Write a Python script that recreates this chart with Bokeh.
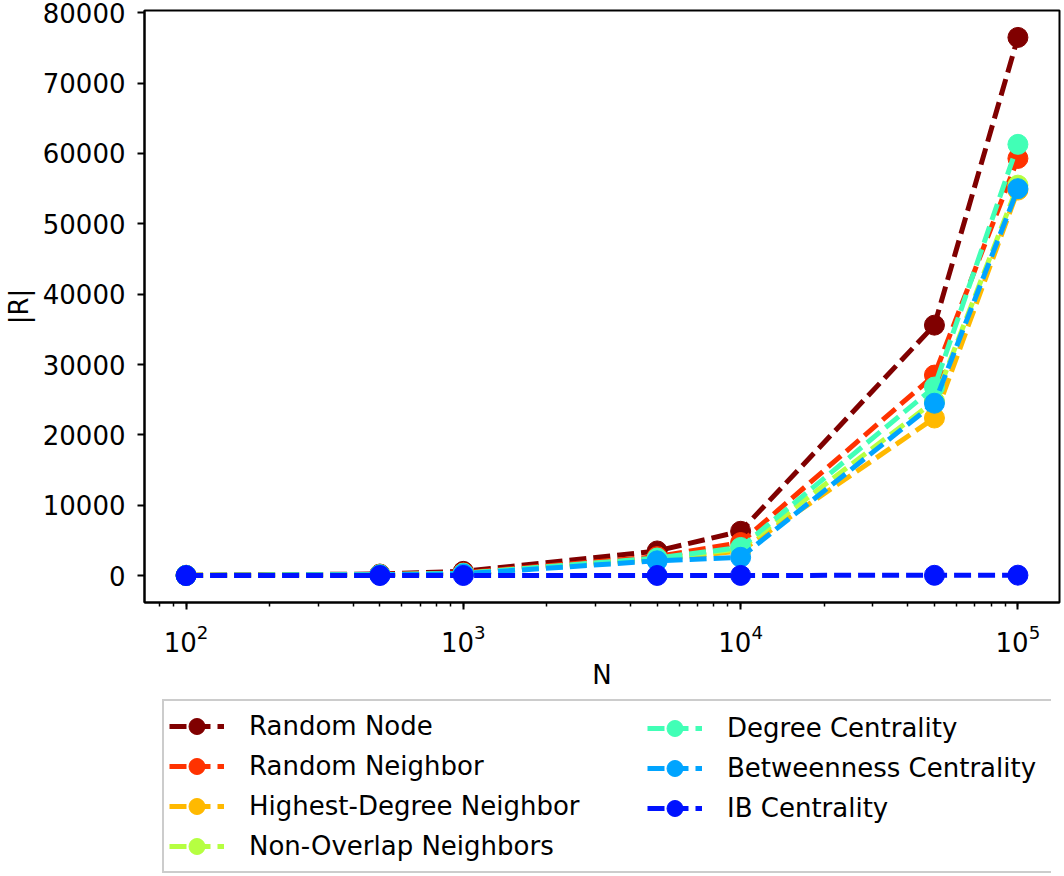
from bokeh.plotting import figure
from bokeh.layouts import column
from bokeh.models import (Range1d, FixedTicker, NumeralTickFormatter, LogTicker,
                          Legend, LegendItem)
from bokeh.embed import file_html
from bokeh.resources import INLINE

N = [100, 500, 1000, 5000, 10000, 50000, 100000]

names = ["Random Node", "Random Neighbor", "Highest-Degree Neighbor",
         "Non-Overlap Neighbors", "Degree Centrality", "Betweenness Centrality",
         "IB Centrality"]

random_node = [40, 220, 600, 3500, 6300, 35600, 76500]
random_neighbor = [30, 150, 400, 2700, 4700, 28500, 59300]
highest_degree = [25, 120, 300, 2300, 3500, 22400, 54800]
non_overlap = [25, 120, 300, 2400, 3800, 24800, 55500]
degree_centrality = [25, 130, 320, 2500, 4000, 26800, 61300]
betweenness = [20, 100, 250, 2100, 2600, 24500, 55000]
ib_centrality = [5, 10, 15, 20, 25, 40, 60]

series = [random_node, random_neighbor, highest_degree, non_overlap,
          degree_centrality, betweenness, ib_centrality]

colors = ["#800000", "#ff3200", "#ffb900", "#b6ff41", "#41ffb6", "#00a4ff", "#0012ff"]

y_ticks = [0, 10000, 20000, 30000, 40000, 50000, 60000, 70000, 80000]

FONT = "DejaVu Sans"
LW = 5
DASH = "17 7"
MS = 20

p = figure(x_axis_type="log", output_backend="svg", toolbar_location=None,
           frame_width=915, frame_height=592,
           x_range=Range1d(70.8, 141254), y_range=Range1d(-3825, 80325),
           min_border_left=4, min_border_right=4, min_border_top=10,
           min_border_bottom=0)

p.xgrid.visible = False
p.ygrid.visible = False
p.outline_line_color = "black"
p.outline_line_width = 2
p.background_fill_color = "white"
p.border_fill_color = "white"

for vals, c in zip(series, colors):
    p.line(N, vals, line_color=c, line_width=LW, line_dash=DASH)
    p.scatter(N, vals, size=MS, fill_color=c, line_color=c)

for ax in (p.xaxis[0], p.yaxis[0]):
    ax.axis_line_width = 2
    ax.major_tick_line_width = 2
    ax.minor_tick_line_width = 1.5
    ax.major_tick_out = 7
    ax.major_tick_in = 0
    ax.minor_tick_out = 4
    ax.minor_tick_in = 0
    ax.major_label_text_font = FONT
    ax.major_label_text_font_size = "26px"
    ax.major_label_text_color = "black"
    ax.axis_label_text_font = FONT
    ax.axis_label_text_font_size = "26px"
    ax.axis_label_text_font_style = "normal"
    ax.axis_label_text_color = "black"

p.yaxis.ticker = FixedTicker(ticks=y_ticks)
p.yaxis.formatter = NumeralTickFormatter(format="0")
p.yaxis.minor_tick_line_color = None
p.yaxis.major_label_standoff = 12
p.yaxis.axis_label = "|R|"
p.yaxis.axis_label_standoff = 6

p.xaxis.ticker = LogTicker(num_minor_ticks=10)
p.xaxis.major_label_standoff = 14
p.xaxis.axis_label = "N"
p.xaxis.axis_label_standoff = 5

# legend-only figure (its frame is aligned with the main plot's frame)
q = figure(output_backend="svg", toolbar_location=None,
           width=1055, height=182, x_axis_location=None, y_axis_location=None,
           x_range=Range1d(0, 1), y_range=Range1d(0, 1),
           min_border_left=0, min_border_right=0, min_border_top=0,
           min_border_bottom=0)
q.xgrid.visible = False
q.ygrid.visible = False
q.outline_line_color = None
q.border_fill_color = "white"

items = []
for name, c in zip(names, colors):
    l = q.line([-1, -2], [-1, -2], line_color=c, line_width=LW, line_dash=DASH)
    s = q.scatter([-1], [-1], size=MS, fill_color=c, line_color=c)
    items.append(LegendItem(label=name, renderers=[l, s]))

common = dict(label_text_font=FONT, label_text_font_size="26px",
              label_text_color="black",
              glyph_width=55, glyph_height=40, label_standoff=25,
              spacing=0, padding=5, margin=0, border_line_width=2)

legend_a = Legend(items=items[:4], location=(18, 1), label_width=797,
                  border_line_color="#cccccc", border_line_alpha=1.0,
                  background_fill_alpha=1.0, **common)
legend_b = Legend(items=items[4:], location=(498, 41),
                  border_line_alpha=0.0, background_fill_alpha=0.0, **common)
q.add_layout(legend_a, "center")
q.add_layout(legend_b, "center")

open("out.html", "w").write(file_html(column(p, q, spacing=0), INLINE))
